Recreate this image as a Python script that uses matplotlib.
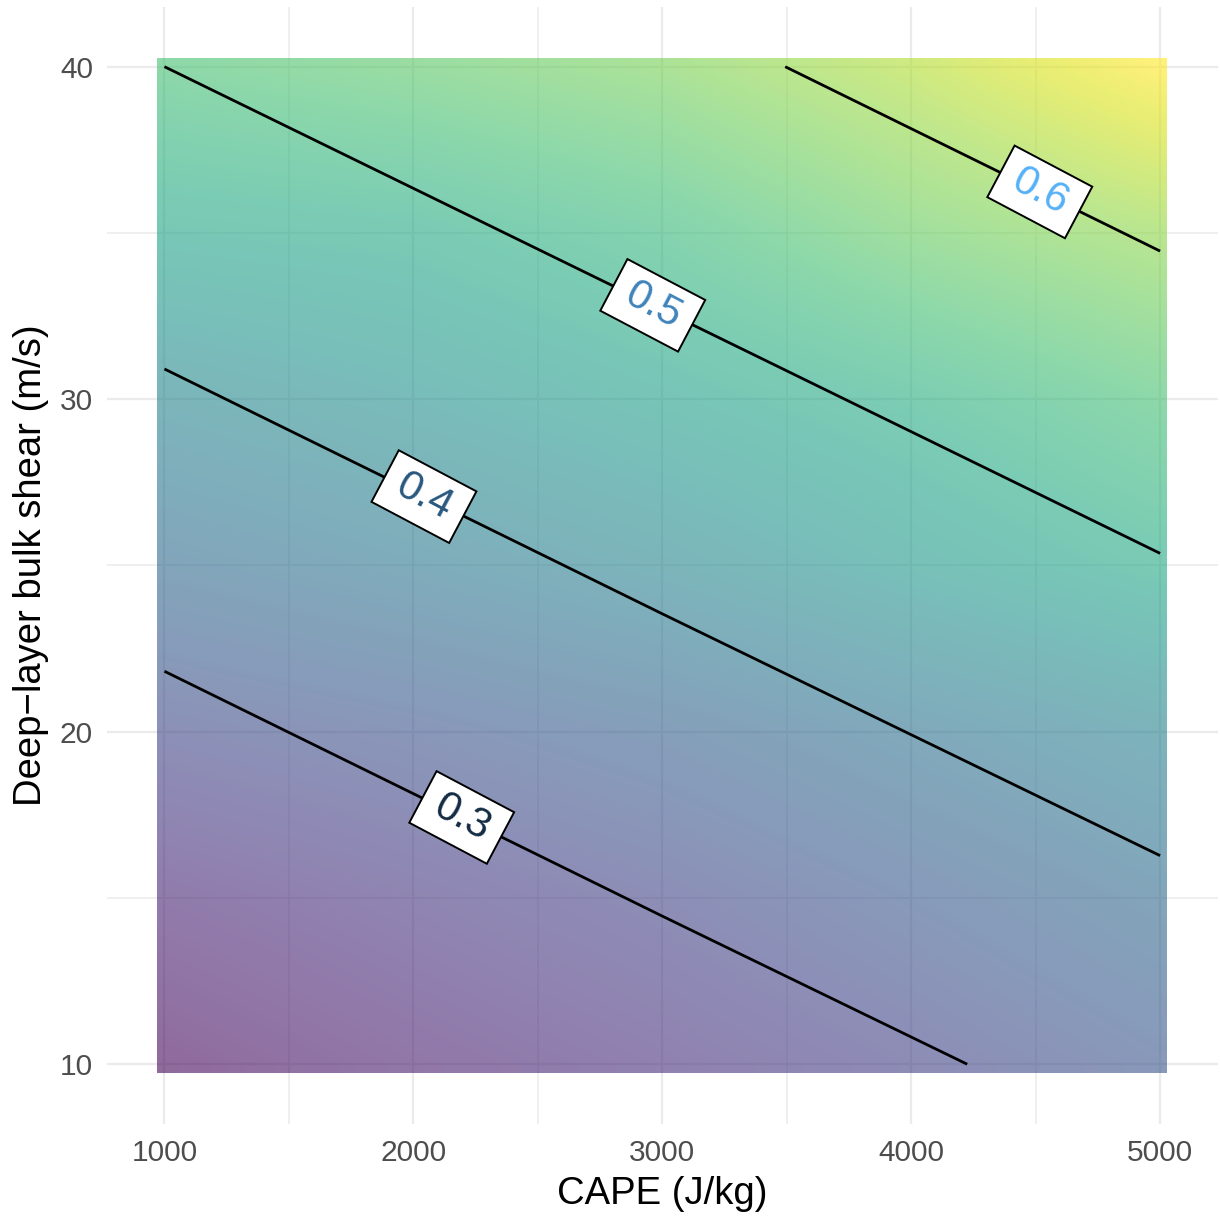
import numpy as np
import matplotlib
matplotlib.use("Agg")
import matplotlib.pyplot as plt
from matplotlib.patches import Rectangle
from matplotlib.path import Path

plt.rcParams['font.family'] = ['Liberation Sans', 'DejaVu Sans']

# fill surface (position on the viridis scale)
fill_cape = np.array([1000, 2000, 3000, 4000, 5000])
fill_shear = np.array([10, 15, 20, 25, 30, 35, 40])
fill_level = np.array([
    [0.02, 0.08, 0.13, 0.19, 0.26],
    [0.10, 0.15, 0.20, 0.27, 0.34],
    [0.21, 0.25, 0.30, 0.37, 0.44],
    [0.34, 0.39, 0.45, 0.53, 0.60],
    [0.45, 0.50, 0.56, 0.62, 0.70],
    [0.58, 0.60, 0.66, 0.76, 0.83],
    [0.70, 0.74, 0.79, 0.88, 1.00],
])

# probability surface used for the contour lines
prob_cape = np.array([1000, 3000, 5000])
prob_shear = np.array([10, 25, 40])
prob = np.array([
    [0.170, 0.251, 0.331],
    [0.335, 0.416, 0.496],
    [0.500, 0.580, 0.661],
])
levels = [0.3, 0.4, 0.5, 0.6]
label_colors = ['#132B43', '#29587F', '#4084BB', '#56B1F7']
label_cape = [2185, 2060, 2960, 4514]
label_shear = [17.3, 27.3, 32.8, 36.2]


def label_box(x0, y0, width, height, mutation_size):
    # wider padding left/right than top/bottom, like the ggplot labels
    px = 0.36 * mutation_size
    py = 0.22 * mutation_size
    x0, y0 = x0 - px, y0 - py
    x1, y1 = x0 + width + 2 * px, y0 + height + 2 * py
    return Path([(x0, y0), (x1, y0), (x1, y1), (x0, y1), (x0, y0)], closed=True)


fig = plt.figure(figsize=(12.2, 12.18), dpi=100)
ax = fig.add_axes([0.0877, 0.0772, 0.9103, 0.9171])

# raster reaches half a cell beyond the data range
half_x, half_y = 28, 0.27
dx = np.diff(fill_cape)[0]
dy = np.diff(fill_shear)[0]
img = ax.imshow(fill_level, cmap='viridis', vmin=0, vmax=1, origin='lower',
                extent=(fill_cape[0] - dx / 2, fill_cape[-1] + dx / 2,
                        fill_shear[0] - dy / 2, fill_shear[-1] + dy / 2),
                interpolation='bilinear', alpha=0.6, aspect='auto', zorder=1)
r0 = (fill_cape[0] - half_x, fill_shear[0] - half_y)
r1 = (fill_cape[-1] + half_x, fill_shear[-1] + half_y)
clip = Rectangle(r0, r1[0] - r0[0], r1[1] - r0[1], transform=ax.transData)
img.set_clip_path(clip)

PX, PY = np.meshgrid(prob_cape, prob_shear)
cs = ax.contour(PX, PY, prob, levels=levels, colors='black',
                linewidths=2.0, zorder=2)
texts = ax.clabel(cs, levels=levels, fmt='%.1f', fontsize=30,
                  colors=label_colors, inline=False,
                  manual=list(zip(label_cape, label_shear)))
for t in texts:
    t.set_bbox(dict(boxstyle=label_box, fc='white', ec='black', lw=1.4))
    t.set_zorder(5)

# ggplot-like expansion of 5%
ex = 0.05 * (r1[0] - r0[0])
ey = 0.05 * (r1[1] - r0[1])
ax.set_xlim(r0[0] - ex, r1[0] + ex)
ax.set_ylim(r0[1] - ey, r1[1] + ey)

ax.set_xticks([1000, 2000, 3000, 4000, 5000])
ax.set_xticks([1500, 2500, 3500, 4500], minor=True)
ax.set_yticks([10, 20, 30, 40])
ax.set_yticks([15, 25, 35], minor=True)
ax.set_axisbelow(True)
ax.grid(which='major', color='#EBEBEB', linewidth=1.6)
ax.grid(which='minor', color='#EBEBEB', linewidth=1.1)
ax.tick_params(which='both', length=0, labelsize=21.5, labelcolor='#4D4D4D')
ax.tick_params(axis='x', pad=11)
ax.tick_params(axis='y', pad=10)
for s in ax.spines.values():
    s.set_visible(False)

ax.set_xlabel("CAPE (J/kg)", fontsize=27.5, color='black', labelpad=6)
ax.set_ylabel("Deep\u2212layer bulk shear (m/s)", fontsize=27.5, color='black', labelpad=8)

fig.savefig("out.png", dpi=100)
